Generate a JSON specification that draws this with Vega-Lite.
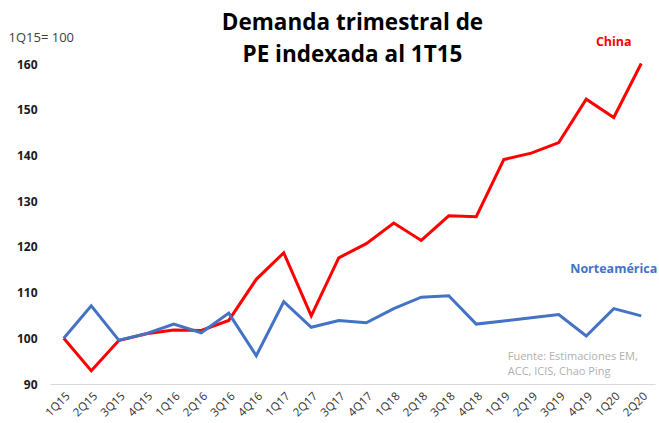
{
  "$schema": "https://vega.github.io/schema/vega-lite/v6.json",
  "width": 605,
  "height": 320,
  "autosize": "none",
  "padding": {"left": 50, "top": 64, "right": 4, "bottom": 39},
  "background": "white",
  "config": {"view": {"stroke": null}, "font": "Open Sans"},
  "title": {
    "text": ["Demanda trimestral de", "PE indexada al 1T15"],
    "fontSize": 22.5,
    "fontWeight": "bold",
    "color": "#000000",
    "lineHeight": 32,
    "anchor": "middle",
    "offset": -35,
    "font": "Open Sans"
  },
  "datasets": {
    "series": [
      {"q": "1Q15", "s": "China", "v": 100},
      {"q": "2Q15", "s": "China", "v": 92.9},
      {"q": "3Q15", "s": "China", "v": 99.5},
      {"q": "4Q15", "s": "China", "v": 101},
      {"q": "1Q16", "s": "China", "v": 101.8},
      {"q": "2Q16", "s": "China", "v": 101.7},
      {"q": "3Q16", "s": "China", "v": 103.9},
      {"q": "4Q16", "s": "China", "v": 112.9},
      {"q": "1Q17", "s": "China", "v": 118.7},
      {"q": "2Q17", "s": "China", "v": 104.9},
      {"q": "3Q17", "s": "China", "v": 117.6},
      {"q": "4Q17", "s": "China", "v": 120.7},
      {"q": "1Q18", "s": "China", "v": 125.2},
      {"q": "2Q18", "s": "China", "v": 121.4},
      {"q": "3Q18", "s": "China", "v": 126.8},
      {"q": "4Q18", "s": "China", "v": 126.6},
      {"q": "1Q19", "s": "China", "v": 139.1},
      {"q": "2Q19", "s": "China", "v": 140.5},
      {"q": "3Q19", "s": "China", "v": 142.8},
      {"q": "4Q19", "s": "China", "v": 152.3},
      {"q": "1Q20", "s": "China", "v": 148.3},
      {"q": "2Q20", "s": "China", "v": 160.1},
      {"q": "1Q15", "s": "Norteamérica", "v": 100},
      {"q": "2Q15", "s": "Norteamérica", "v": 107.1},
      {"q": "3Q15", "s": "Norteamérica", "v": 99.6},
      {"q": "4Q15", "s": "Norteamérica", "v": 101},
      {"q": "1Q16", "s": "Norteamérica", "v": 103.1},
      {"q": "2Q16", "s": "Norteamérica", "v": 101.2},
      {"q": "3Q16", "s": "Norteamérica", "v": 105.5},
      {"q": "4Q16", "s": "Norteamérica", "v": 96.2},
      {"q": "1Q17", "s": "Norteamérica", "v": 108},
      {"q": "2Q17", "s": "Norteamérica", "v": 102.4},
      {"q": "3Q17", "s": "Norteamérica", "v": 103.9},
      {"q": "4Q17", "s": "Norteamérica", "v": 103.4},
      {"q": "1Q18", "s": "Norteamérica", "v": 106.5},
      {"q": "2Q18", "s": "Norteamérica", "v": 109},
      {"q": "3Q18", "s": "Norteamérica", "v": 109.3},
      {"q": "4Q18", "s": "Norteamérica", "v": 103.1},
      {"q": "1Q19", "s": "Norteamérica", "v": 103.8},
      {"q": "2Q19", "s": "Norteamérica", "v": 104.5},
      {"q": "3Q19", "s": "Norteamérica", "v": 105.2},
      {"q": "4Q19", "s": "Norteamérica", "v": 100.5},
      {"q": "1Q20", "s": "Norteamérica", "v": 106.5},
      {"q": "2Q20", "s": "Norteamérica", "v": 104.9}
    ],
    "labels": [
      {"q": "1Q20", "v": 164.8, "t": "China", "s": "China"},
      {"q": "1Q20", "v": 115.2, "t": "Norteamérica", "s": "Norteamérica"}
    ],
    "source": [
      {"q": "1Q19", "v": 95.9, "t": "Fuente: Estimaciones EM,"},
      {"q": "1Q19", "v": 92.6, "t": "ACC, ICIS, Chao Ping"}
    ]
  },
  "layer": [
    {
      "data": {"name": "series"},
      "mark": {"type": "line", "strokeWidth": 3, "strokeJoin": "miter"},
      "encoding": {
        "x": {
          "field": "q", "type": "ordinal", "sort": null,
          "scale": {"type": "point", "padding": 0.5},
          "axis": {
            "title": null, "labelAngle": -45, "labelFontSize": 11.5, "labelColor": "#303030",
            "ticks": false, "domainColor": "#d9d9d9", "domainWidth": 1, "labelPadding": 6
          }
        },
        "y": {
          "field": "v", "type": "quantitative",
          "scale": {"domain": [90, 160], "nice": false, "zero": false},
          "axis": {
            "values": [90, 100, 110, 120, 130, 140, 150, 160],
            "grid": false, "domain": false, "ticks": false,
            "labelFontSize": 12, "labelFontWeight": "bold", "labelColor": "#1a1a1a", "labelPadding": 13,
            "title": "1Q15= 100", "titleAngle": 0, "titleAlign": "left", "titleBaseline": "middle",
            "titleX": -42, "titleY": -27, "titleFontSize": 13, "titleFontWeight": "normal", "titleColor": "#404040"
          }
        },
        "color": {
          "field": "s", "type": "nominal",
          "scale": {"domain": ["Norteamérica", "China"], "range": ["#4472C4", "#FF0000"]},
          "legend": null
        },
        "order": {"value": 0}
      }
    },
    {
      "data": {"name": "labels"},
      "mark": {"type": "text", "fontWeight": "bold", "fontSize": 12.5, "align": "center", "baseline": "middle", "clip": false},
      "encoding": {
        "x": {"field": "q", "type": "ordinal", "sort": null},
        "y": {"field": "v", "type": "quantitative"},
        "text": {"field": "t"},
        "color": {"field": "s", "type": "nominal", "legend": null}
      }
    },
    {
      "data": {"name": "source"},
      "mark": {"type": "text", "fontSize": 11, "align": "left", "baseline": "middle", "dx": 4, "color": "#b0b0b0"},
      "encoding": {
        "x": {"field": "q", "type": "ordinal", "sort": null},
        "y": {"field": "v", "type": "quantitative"},
        "text": {"field": "t"}
      }
    }
  ]
}
